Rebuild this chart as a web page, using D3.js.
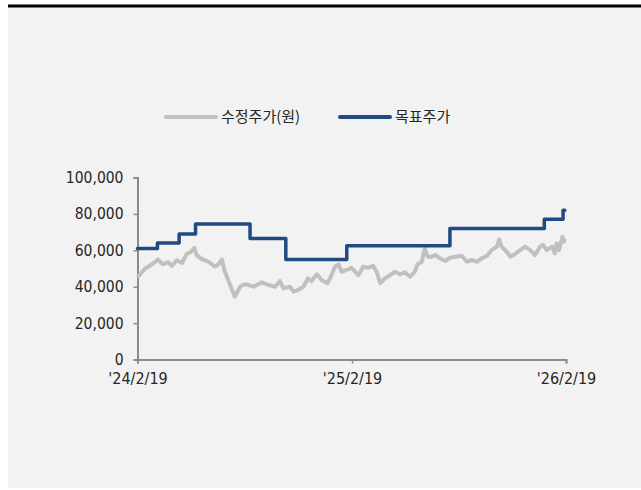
<!DOCTYPE html>
<html>
<head>
<meta charset="utf-8">
<script src="https://cdn.jsdelivr.net/npm/d3@7"></script>
<style>
  body { margin: 0; background: #fff; }
  svg { display: block; }
</style>
</head>
<body>
<svg id="chart"></svg>
<script>
// 수정주가 (adjusted price)
const priceDates = ["2024-02-19","2024-02-25","2024-03-03","2024-03-11","2024-03-20","2024-03-25","2024-04-02","2024-04-11","2024-04-18","2024-04-26",
  "2024-05-05","2024-05-13","2024-05-20","2024-05-26","2024-05-30","2024-06-08","2024-06-19","2024-06-30","2024-07-06","2024-07-12",
  "2024-07-16","2024-07-26","2024-08-03","2024-08-12","2024-08-17","2024-08-23","2024-09-04","2024-09-18","2024-09-29","2024-10-11",
  "2024-10-19","2024-10-25","2024-11-05","2024-11-11","2024-11-19","2024-11-28","2024-12-06","2024-12-12","2024-12-21","2024-12-29",
  "2025-01-08","2025-01-15","2025-01-21","2025-01-27","2025-02-01","2025-02-10","2025-02-18","2025-03-02","2025-03-10","2025-03-19",
  "2025-03-27","2025-04-02","2025-04-08","2025-04-16","2025-04-25","2025-05-03","2025-05-12","2025-05-20","2025-05-29","2025-06-06",
  "2025-06-11","2025-06-18","2025-06-23","2025-06-28","2025-07-05","2025-07-11","2025-07-19","2025-07-28","2025-08-05","2025-08-14",
  "2025-08-25","2025-09-03","2025-09-11","2025-09-20","2025-09-28","2025-10-07","2025-10-15","2025-10-24","2025-10-28","2025-11-01",
  "2025-11-10","2025-11-16","2025-11-24","2025-12-03","2025-12-11","2025-12-20","2025-12-28","2026-01-06","2026-01-11","2026-01-17",
  "2026-01-26","2026-01-31","2026-02-03","2026-02-07","2026-02-10","2026-02-13","2026-02-15","2026-02-17"];
const priceValues = [45000,47500,50000,51500,53500,55000,52300,53500,51500,54500,
  53000,58000,59000,61400,57400,55200,53700,51000,52300,55000,
  49200,41000,34500,40000,41000,41300,40000,42400,41000,40000,
  43100,39100,40000,37300,38200,40000,44600,43100,46800,43700,
  41900,46400,51000,52300,48200,49200,50400,46400,51000,50400,
  51500,48200,41900,44600,46400,48200,46800,47900,45500,48200,
  52300,53700,61100,56500,56500,57400,55600,54100,55900,56500,
  57000,53700,54700,53700,55600,56900,60100,62000,66000,62000,
  59200,56500,58000,60100,62000,60100,57400,62000,62900,60100,
  62000,58300,63800,60100,64100,67400,64700,66500];

// 목표주가 (target price), step changes
const targetDates = ["2024-02-19","2024-03-24","2024-04-30","2024-05-28","2024-08-29","2024-10-29","2025-02-10","2025-08-05","2026-01-13","2026-02-14","2026-02-17"];
const targetValues = [61000,64000,69000,74500,66500,55000,62500,72000,77000,82000,82000];

const yTicks = [0, 20000, 40000, 60000, 80000, 100000];
const xTicks = ["2024-02-19", "2025-02-19", "2026-02-19"];
const seriesNames = ["수정주가(원)", "목표주가"];
const seriesColors = ["#c0c0c0", "#1f4a82"];

const W = 641, H = 490;
const svg = d3.select("#chart").attr("width", W).attr("height", H);

// panel background + top rule
svg.append("rect").attr("x", 8).attr("y", 6).attr("width", W - 8).attr("height", 482).attr("fill", "#f2f2f2");
svg.append("line").attr("x1", 8).attr("x2", W).attr("y1", 6).attr("y2", 6)
  .attr("stroke", "#000").attr("stroke-width", 3);

const parse = d3.timeParse("%Y-%m-%d");
const fmtTick = d3.timeFormat("'%y/%-m/%-d");
const tickFont = "'DejaVu Sans Condensed', 'Liberation Sans', sans-serif";

const x = d3.scaleTime()
  .domain([parse("2024-02-19"), parse("2026-02-19")])
  .range([137.5, 566]);
const y = d3.scaleLinear().domain([0, 100000]).range([359.5, 177.5]);

const price = priceDates.map((d, i) => ({ date: parse(d), value: priceValues[i] }));
const target = targetDates.map((d, i) => ({ date: parse(d), value: targetValues[i] }));

// y axis
const yAxis = svg.append("g")
  .attr("transform", "translate(137.5,0)")
  .call(d3.axisLeft(y).tickValues(yTicks).tickSize(4).tickPadding(10).tickFormat(d3.format(",")));
yAxis.select(".domain").attr("stroke", "#8c8c8c").attr("stroke-width", 2);
yAxis.selectAll(".tick line").attr("stroke", "#8c8c8c").attr("stroke-width", 1.5);
yAxis.selectAll("text").attr("fill", "#262626")
  .style("font-family", tickFont).style("font-size", "15.5px");

// x axis
const xAxis = svg.append("g")
  .attr("transform", "translate(0,359.5)")
  .call(d3.axisBottom(x).tickValues(xTicks.map(parse)).tickSize(4).tickPadding(9).tickFormat(fmtTick));
xAxis.select(".domain").attr("stroke", "#8c8c8c").attr("stroke-width", 2);
xAxis.selectAll(".tick line").attr("stroke", "#8c8c8c").attr("stroke-width", 1.5);
xAxis.selectAll("text").attr("fill", "#262626")
  .style("font-family", tickFont).style("font-size", "16px");

// lines
const priceLine = d3.line().x(d => x(d.date)).y(d => y(d.value));
svg.append("path").datum(price)
  .attr("d", priceLine)
  .attr("fill", "none").attr("stroke", seriesColors[0]).attr("stroke-width", 4)
  .attr("stroke-linejoin", "round");

const targetLine = d3.line().curve(d3.curveStepAfter).x(d => x(d.date)).y(d => y(d.value));
svg.append("path").datum(target)
  .attr("d", targetLine)
  .attr("fill", "none").attr("stroke", seriesColors[1]).attr("stroke-width", 3.5)
  .attr("stroke-linejoin", "round").attr("stroke-linecap", "round");

// legend
const legendX = [166, 340];
const legend = svg.append("g");
seriesNames.forEach((name, i) => {
  const g = legend.append("g").attr("transform", `translate(${legendX[i]},117)`);
  g.append("line").attr("x1", 0).attr("x2", 50)
    .attr("stroke", seriesColors[i]).attr("stroke-width", 4).attr("stroke-linecap", "round");
  g.append("text").attr("x", 55).attr("dy", "0.35em")
    .attr("fill", "#262626")
    .style("font-family", "'Noto Sans CJK KR', sans-serif").style("font-size", "15px")
    .text(name);
});
</script>
</body>
</html>
